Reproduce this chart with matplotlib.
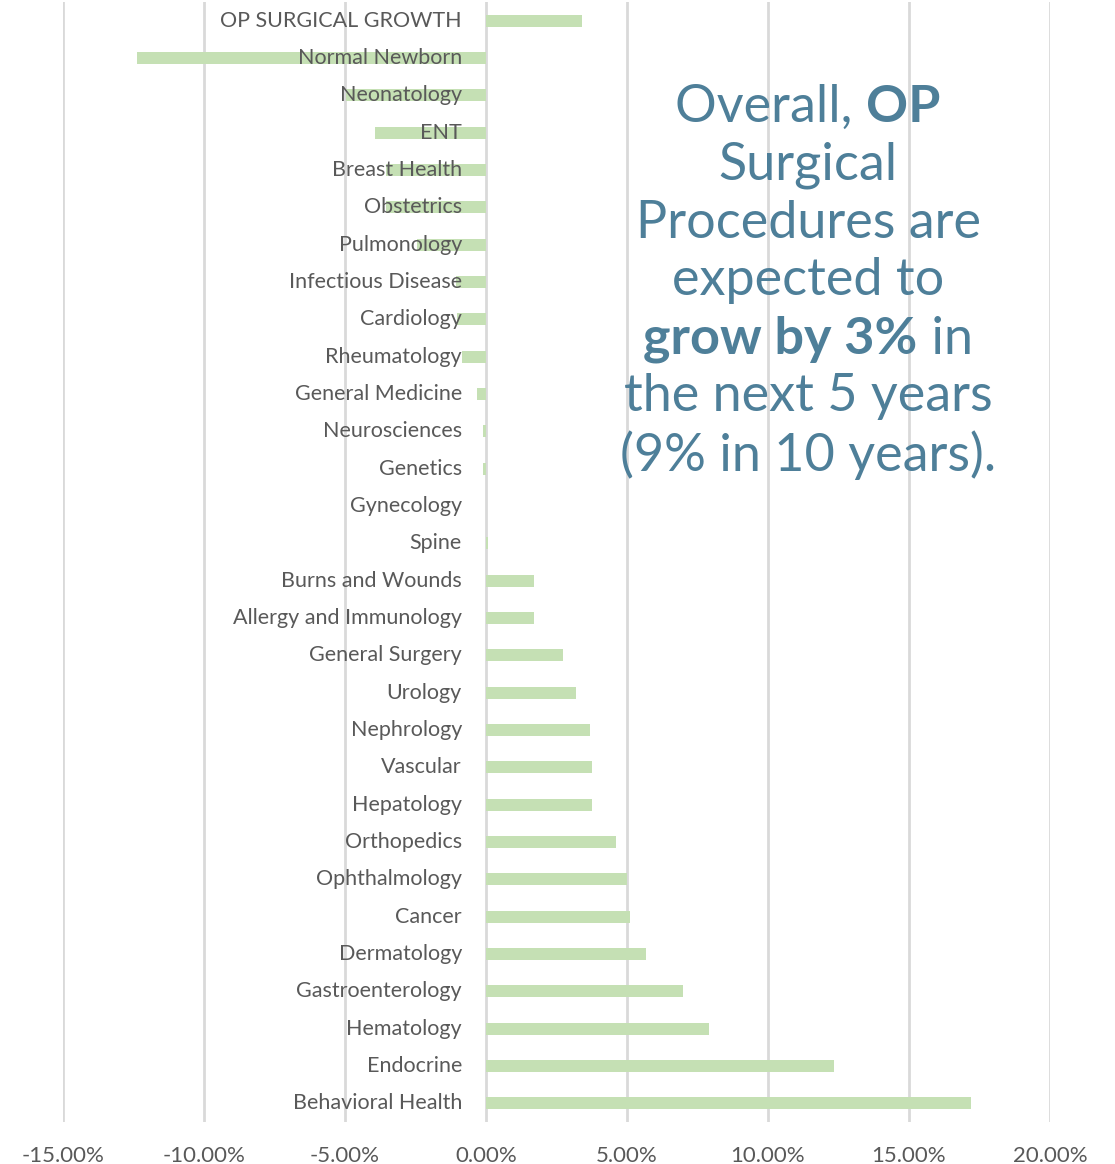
import matplotlib
matplotlib.use("Agg")
import matplotlib.pyplot as plt
import matplotlib.transforms as mtransforms
import numpy as np

# service lines, top to bottom, and 5-year growth (%)
services = [
    "OP SURGICAL GROWTH", "Normal Newborn", "Neonatology", "ENT", "Breast Health",
    "Obstetrics", "Pulmonology", "Infectious Disease", "Cardiology", "Rheumatology",
    "General Medicine", "Neurosciences", "Genetics", "Gynecology", "Spine",
    "Burns and Wounds", "Allergy and Immunology", "General Surgery", "Urology",
    "Nephrology", "Vascular", "Hepatology", "Orthopedics", "Ophthalmology",
    "Cancer", "Dermatology", "Gastroenterology", "Hematology", "Endocrine",
    "Behavioral Health",
]
growth = [
    3.40, -12.38, -4.95, -3.94, -3.55,
    -3.55, -2.45, -1.06, -1.03, -0.85,
    -0.32, -0.12, -0.12, 0.0, 0.08,
    1.70, 1.70, 2.72, 3.19,
    3.69, 3.76, 3.76, 4.60, 5.00,
    5.10, 5.67, 6.99, 7.90, 12.34,
    17.20,
]
xticks = [-15, -10, -5, 0, 5, 10, 15, 20]

BAR = "#C5E0B4"
GRID = "#D9D9D9"
LABEL = "#595959"
NOTE = "#4E7F99"

fig = plt.figure(figsize=(11.15, 11.64), dpi=100)
ax = fig.add_axes([63 / 1115, 1 - 1122 / 1164, (1050 - 63) / 1115, 1120 / 1164])

y = np.arange(len(services))
ax.barh(y, growth, height=0.32, color=BAR, zorder=2)
ax.set_ylim(len(services) - 0.5, -0.5)
ax.set_xlim(-15, 20)
ax.set_xticks(xticks)
ax.set_xticklabels([f"{v:.2f}%" for v in xticks], fontsize=16, color=LABEL, family="Lato")
ax.tick_params(axis="x", length=0, pad=17)
ax.set_yticks([])
ax.grid(axis="x", color=GRID, linewidth=2, zorder=1)
ax.set_axisbelow(True)
for s in ax.spines.values():
    s.set_visible(False)

# category labels sit left of the zero line, over the bars
lab_tr = mtransforms.offset_copy(ax.transData, fig=fig, x=-24, y=0, units="dots")
for yi, name in zip(y, services):
    ax.text(0, yi, name, transform=lab_tr, ha="right", va="center",
            fontsize=15.5, color=LABEL, family="Lato", zorder=3)

# callout text, built line by line so bold pieces can sit inline
note_lines = [
    [("Overall, ", "normal"), ("OP", "bold")],
    [("Surgical", "normal")],
    [("Procedures are", "normal")],
    [("expected to", "normal")],
    [("grow by 3%", "bold"), (" in", "normal")],
    [("the next 5 years", "normal")],
    [("(9% in 10 years).", "normal")],
]
cx = 808
renderer = fig.canvas.get_renderer()
for i, parts in enumerate(note_lines):
    ypix = 1164 - (107 + i * 58)
    widths = []
    for txt, wt in parts:
        t = fig.text(0, 0, txt.replace(" ", "\u00a0"), fontsize=37.5, family="Lato", weight=wt)
        widths.append(t.get_window_extent(renderer).width)
        t.remove()
    x0 = cx - sum(widths) / 2
    for (txt, wt), w in zip(parts, widths):
        fig.text(x0 / 1115, ypix / 1164, txt.replace(" ", "\u00a0"), fontsize=37.5,
                 family="Lato", weight=wt, color=NOTE, ha="left", va="center")
        x0 += w

fig.savefig("out.png", dpi=100)
